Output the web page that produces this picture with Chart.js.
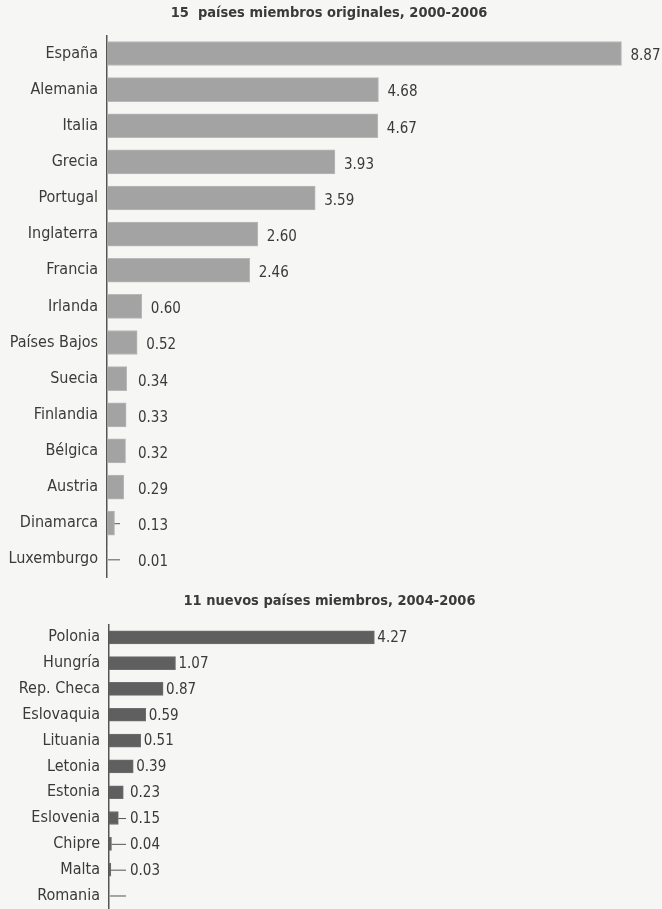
<!DOCTYPE html>
<html>
<head>
<meta charset="utf-8">
<script src="https://cdn.jsdelivr.net/npm/chart.js@4"></script>
<style>
    body { margin: 0; background: #f6f6f4; overflow: hidden; }
    .box { position: absolute; left: 0; width: 662px; }
    #topBox { top: 0; height: 588px; }
    #bottomBox { top: 588px; height: 331px; }
</style>
</head>
<body>
<div class="box" id="topBox"><canvas id="topChart"></canvas></div>
<div class="box" id="bottomBox"><canvas id="bottomChart"></canvas></div>
<script>
const topTitle = "15  países miembros originales, 2000-2006";
const topLabels = ["España", "Alemania", "Italia", "Grecia", "Portugal", "Inglaterra", "Francia",
    "Irlanda", "Países Bajos", "Suecia", "Finlandia", "Bélgica", "Austria", "Dinamarca", "Luxemburgo"];
const topValues = [8.87, 4.68, 4.67, 3.93, 3.59, 2.60, 2.46, 0.60, 0.52, 0.34, 0.33, 0.32, 0.29, 0.13, 0.01];

const bottomTitle = "11 nuevos países miembros, 2004-2006";
const bottomLabels = ["Polonia", "Hungría", "Rep. Checa", "Eslovaquia", "Lituania", "Letonia",
    "Estonia", "Eslovenia", "Chipre", "Malta", "Romania"];
const bottomValues = [4.27, 1.07, 0.87, 0.59, 0.51, 0.39, 0.23, 0.15, 0.04, 0.03, 0];
const bottomShown = ["4.27", "1.07", "0.87", "0.59", "0.51", "0.39", "0.23", "0.15", "0.04", "0.03", ""];

const FONT = "'Liberation Sans Narrow', 'DejaVu Sans Condensed', 'Open Sans', sans-serif";
const TEXT = "#3a3a3a";

// value labels with a short leader line for the tiny bars
const valueLabels = {
    id: "valueLabels",
    afterDatasetsDraw(chart, args, opts) {
        const ctx = chart.ctx;
        const meta = chart.getDatasetMeta(0);
        const x0 = chart.scales.x.getPixelForValue(0);
        ctx.save();
        ctx.font = opts.size + "px " + FONT;
        ctx.fillStyle = TEXT;
        ctx.strokeStyle = "#555";
        ctx.lineWidth = 1;
        ctx.textBaseline = "middle";
        meta.data.forEach(function (bar, i) {
            const v = chart.data.datasets[0].data[i];
            const end = bar.x;
            const lx = Math.max(end + opts.gap, x0 + opts.minOffset);
            if (v < opts.leaderBelow) {
                ctx.beginPath();
                ctx.moveTo(Math.max(end, x0 + 1), bar.y + 0.5);
                ctx.lineTo(x0 + opts.leaderEnd, bar.y + 0.5);
                ctx.stroke();
            }
            const txt = opts.texts ? opts.texts[i] : v.toFixed(2);
            ctx.fillText(txt, lx, bar.y + opts.dy);
        });
        ctx.restore();
    }
};

function makeChart(id, title, labels, values, o) {
    return new Chart(document.getElementById(id).getContext('2d'), {
        type: 'bar',
        data: {
            labels: labels,
            datasets: [{
                data: values,
                backgroundColor: o.color,
                borderColor: o.border,
                borderWidth: 1,
                borderSkipped: 'left',
                barThickness: o.thick
            }]
        },
        options: {
            indexAxis: 'y',
            responsive: true,
            maintainAspectRatio: false,
            animation: false,
            layout: { padding: { left: 0, right: o.padRight, top: 0, bottom: o.padBottom } },
            scales: {
                x: { display: false, min: 0, max: o.max },
                y: {
                    grid: { display: false },
                    border: { display: true, color: "#555", width: 1.5 },
                    ticks: { color: TEXT, font: { family: FONT, size: o.tickSize }, padding: 1 },
                    afterFit: function (scale) { scale.width = o.axisX; }
                }
            },
            plugins: {
                legend: { display: false },
                tooltip: { enabled: false },
                title: {
                    display: true,
                    text: title,
                    color: TEXT,
                    font: { family: FONT, size: 14.5, weight: 'bold' },
                    padding: { top: o.titleTop, bottom: o.titleBottom }
                },
                valueLabels: o.labels
            }
        },
        plugins: [valueLabels]
    });
}

makeChart('topChart', topTitle, topLabels, topValues, {
    color: "#a3a3a3", border: "#b8b8b8", thick: 24, max: 9.5, padRight: 4, padBottom: 5,
    axisX: 107, tickSize: 16, titleTop: 5, titleBottom: 13,
    labels: { size: 15, gap: 9, minOffset: 31, leaderBelow: 0.2, leaderEnd: 13, dy: 3 }
});

makeChart('bottomChart', bottomTitle, bottomLabels, bottomValues, {
    color: "#5f5f5f", border: "#6e6e6e", thick: 13, max: 8.85, padRight: 3, padBottom: 0,
    axisX: 109, tickSize: 16, titleTop: 5, titleBottom: 14,
    labels: { size: 15, gap: 3, minOffset: 21, leaderBelow: 0.2, leaderEnd: 17, dy: 1, texts: bottomShown }
});
</script>
</body>
</html>
